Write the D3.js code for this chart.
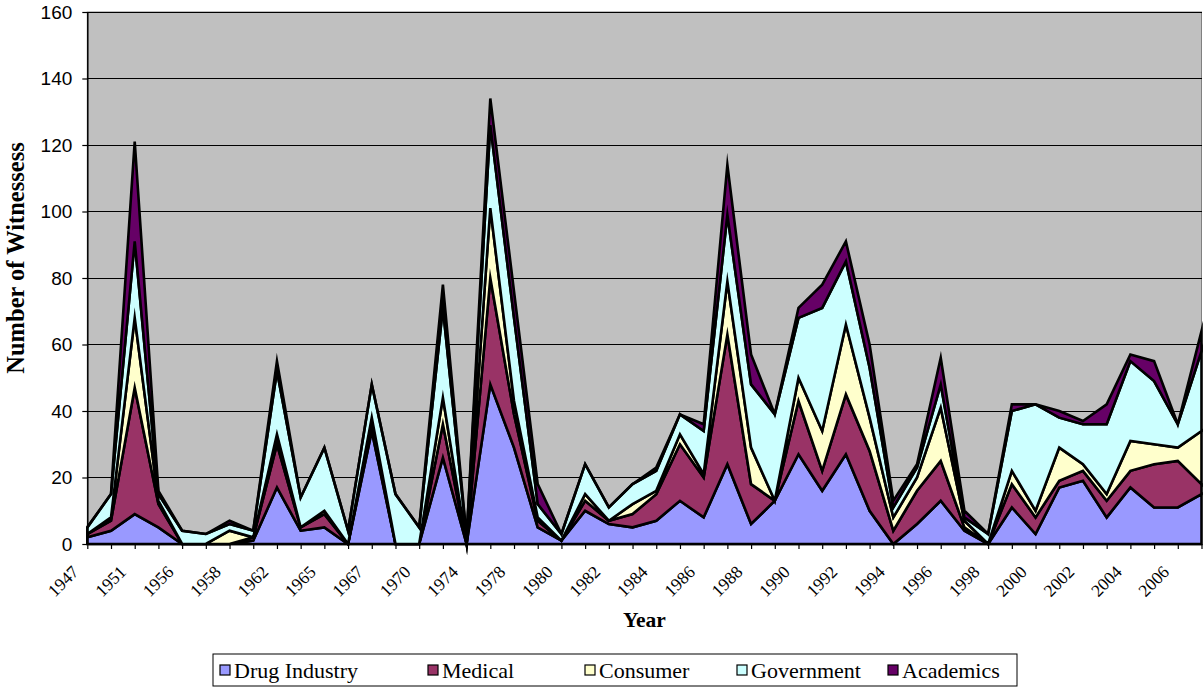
<!DOCTYPE html>
<html>
<head>
<meta charset="utf-8">
<script src="https://cdn.jsdelivr.net/npm/d3@7"></script>
<style>
  body { margin: 0; background: #ffffff; }
  svg { display: block; }
</style>
</head>
<body>
<svg id="chart" width="1203" height="687"></svg>
<script>
// Hearing witnesses per year, by affiliation (stacked)
const years = [
  "1947","1949","1951","1953","1956","1957","1958","1960","1962","1963",
  "1965","1966","1967","1969","1970","1972","1974","1976","1978","1979",
  "1980","1981","1982","1983","1984","1985","1986","1987","1988","1989",
  "1990","1991","1992","1993","1994","1995","1996","1997","1998","1999",
  "2000","2001","2002","2003","2004","2005","2006","2007"
];
const drugIndustry = [2,4,9,5,0,0,0,1,17,4, 5,0,34,0,0,26,0,48,29,5, 1,10,6,5,7,13,8,24,6,13, 27,16,27,10,0,6,13,4,0,11, 3,17,19,8,17,11,11,15];
const medical      = [1,3,38,7,0,0,0,1,13,1, 4,0,2,0,0,10,0,32,10,2, 0,3,1,4,8,17,12,39,12,0, 16,6,18,18,4,10,12,1,0,7, 5,2,3,5,5,13,14,3];
const consumer     = [0,1,21,1,0,0,4,0,3,0, 1,0,2,0,0,8,0,21,4,1, 0,2,0,3,1,3,1,16,11,0, 7,12,21,10,4,4,16,2,0,4, 2,10,2,2,9,6,4,16];
const government   = [2,7,23,2,4,3,2,2,19,9, 19,4,10,15,5,27,2,25,25,4, 2,9,4,6,6,6,13,20,19,26, 18,37,19,15,3,3,7,1,3,18, 32,9,12,21,24,19,7,24];
const academics    = [0,0,30,1,0,0,1,0,3,0, 0,0,0,0,0,7,0,8,8,6, 0,0,0,0,1,0,2,15,9,0, 3,7,6,7,2,1,8,2,0,2, 0,2,1,6,2,6,0,6];

const seriesNames  = ["Drug Industry", "Medical", "Consumer", "Government", "Academics"];
const seriesValues = [drugIndustry, medical, consumer, government, academics];
const seriesColors = ["#9999FF", "#993366", "#FFFFCC", "#CCFFFF", "#660066"];
const yTicks = [0, 20, 40, 60, 80, 100, 120, 140, 160];

const plot = { left: 87.3, right: 1201.5, top: 12, bottom: 544 };
const serif = "'Liberation Serif', 'Times New Roman', serif";
const sans = "'Liberation Sans', Arial, sans-serif";

const rows = years.map((yr, i) => {
  const r = { year: yr };
  seriesNames.forEach((n, k) => { r[n] = seriesValues[k][i]; });
  return r;
});

const svg = d3.select("#chart");

const x = d3.scalePoint().domain(years).range([plot.left, plot.right]);
const y = d3.scaleLinear().domain([0, 160]).range([plot.bottom, plot.top]);

// plot area background
svg.append("rect")
  .attr("x", plot.left).attr("y", plot.top)
  .attr("width", plot.right - plot.left).attr("height", plot.bottom - plot.top)
  .attr("fill", "#C0C0C0").attr("stroke", "#808080").attr("stroke-width", 1);

// horizontal gridlines
svg.append("g").selectAll("line")
  .data(yTicks.filter(t => t > 0))
  .join("line")
  .attr("x1", plot.left).attr("x2", plot.right)
  .attr("y1", d => y(d)).attr("y2", d => y(d))
  .attr("stroke", "#000").attr("stroke-width", 1)
  .attr("shape-rendering", "crispEdges");

// stacked areas
const stacked = d3.stack().keys(seriesNames)(rows);
const area = d3.area()
  .x(d => x(d.data.year))
  .y0(d => y(d[0]))
  .y1(d => y(d[1]));

svg.append("g").selectAll("path")
  .data(stacked)
  .join("path")
  .attr("d", area)
  .attr("fill", (d, i) => seriesColors[i])
  .attr("stroke", "#000")
  .attr("stroke-width", 2.6)
  .attr("stroke-linejoin", "miter")
  .attr("stroke-miterlimit", 10);

// y axis
const yAxis = svg.append("g")
  .attr("transform", `translate(${plot.left},0)`)
  .call(d3.axisLeft(y).tickValues(yTicks).tickSize(5).tickPadding(10).tickSizeOuter(0));
yAxis.select(".domain").attr("stroke", "#000").attr("stroke-width", 1.5);
yAxis.selectAll(".tick line").attr("stroke", "#000").attr("stroke-width", 1.2);
yAxis.selectAll("text")
  .attr("font-family", sans)
  .attr("font-size", 19).attr("fill", "#000");

// x axis
const xAxis = svg.append("g")
  .attr("transform", `translate(0,${plot.bottom})`)
  .call(d3.axisBottom(x).tickSize(5).tickSizeOuter(0)
    .tickFormat((d, i) => (i % 2 === 0 ? d : "")));
xAxis.select(".domain").attr("stroke", "#000").attr("stroke-width", 1.5);
xAxis.selectAll(".tick line").attr("stroke", "#000").attr("stroke-width", 1.2);
xAxis.selectAll("text")
  .attr("font-family", serif)
  .attr("font-size", 17.5).attr("fill", "#000")
  .attr("text-anchor", "end")
  .attr("dy", null)
  .attr("y", null)
  .attr("transform", "translate(-8,29) rotate(-45)");

// axis titles
svg.append("text")
  .attr("x", (plot.left + plot.right) / 2).attr("y", 627)
  .attr("text-anchor", "middle")
  .attr("font-family", serif)
  .attr("font-weight", "bold").attr("font-size", 21.5)
  .text("Year");

svg.append("text")
  .attr("transform", `translate(24,258) rotate(-90)`)
  .attr("text-anchor", "middle")
  .attr("font-family", serif)
  .attr("font-weight", "bold").attr("font-size", 24.5)
  .text("Number of Witnessess");

// legend
const legendX = [220, 428, 585, 737, 888];
const legend = svg.append("g");
legend.append("rect")
  .attr("x", 213).attr("y", 654).attr("width", 804).attr("height", 32)
  .attr("fill", "#fff").attr("stroke", "#000").attr("stroke-width", 1);
const items = legend.selectAll("g.item")
  .data(seriesNames)
  .join("g").attr("class", "item")
  .attr("transform", (d, i) => `translate(${legendX[i]},0)`);
items.append("rect")
  .attr("x", 0).attr("y", 665).attr("width", 10).attr("height", 10)
  .attr("fill", (d, i) => seriesColors[i])
  .attr("stroke", "#000").attr("stroke-width", 1.2);
items.append("text")
  .attr("x", 14).attr("y", 677.5)
  .attr("font-family", serif)
  .attr("font-size", 22).attr("fill", "#000")
  .text(d => d);
</script>
</body>
</html>
